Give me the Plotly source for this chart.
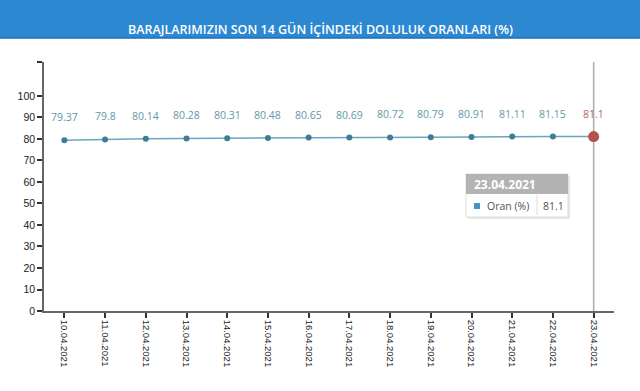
import plotly.graph_objects as go

dates = ["10.04.2021", "11.04.2021", "12.04.2021", "13.04.2021", "14.04.2021",
         "15.04.2021", "16.04.2021", "17.04.2021", "18.04.2021", "19.04.2021",
         "20.04.2021", "21.04.2021", "22.04.2021", "23.04.2021"]
values = [79.37, 79.8, 80.14, 80.28, 80.31, 80.48, 80.65, 80.69, 80.72, 80.79,
          80.91, 81.11, 81.15, 81.1]
labels = ["79.37", "79.8", "80.14", "80.28", "80.31", "80.48", "80.65", "80.69",
          "80.72", "80.79", "80.91", "81.11", "81.15", "81.1"]
y_ticks = [0, 10, 20, 30, 40, 50, 60, 70, 80, 90, 100]
title = "BARAJLARIMIZIN SON 14 GÜN İÇİNDEKİ DOLULUK ORANLARI (%)"
series_name = "Oran (%)"
ymax = 115.8

fig = go.Figure()
fig.add_trace(go.Scatter(
    x=dates, y=values, mode="lines+markers",
    line=dict(color="#6aa6c0", width=1.5),
    marker=dict(color="#3f7d94", size=6),
    hoverinfo="skip", showlegend=False))
fig.add_trace(go.Scatter(
    x=[dates[-1]], y=[values[-1]], mode="markers",
    marker=dict(color="#b5524f", size=11),
    hoverinfo="skip", showlegend=False))

for i, (d, v, t) in enumerate(zip(dates, values, labels)):
    fig.add_annotation(x=d, y=v, text=t, showarrow=False, yshift=23,
                       font=dict(family="Open Sans", size=10.5,
                                 color="#b06a66" if i == len(dates) - 1 else "#6397a8"))

def px(xp):
    return (xp - 44) / 570
def py(yp):
    return (311 - yp) / 249

# hover cursor line
fig.add_shape(type="line", xref="x", yref="paper", x0=dates[-1], x1=dates[-1],
              y0=0, y1=1, line=dict(color="#aaaaaa", width=1.5), layer="below")

# header band
fig.add_shape(type="rect", xref="paper", yref="paper",
              x0=px(0), x1=px(640), y0=py(38), y1=py(-2),
              fillcolor="#2d88d2", line=dict(width=0), layer="above")
fig.add_shape(type="line", xref="paper", yref="paper",
              x0=px(0), x1=px(640), y0=py(38), y1=py(38),
              line=dict(color="#1f6fb5", width=1.5), layer="above")
fig.add_annotation(xref="paper", yref="paper", x=px(320), y=py(19),
                   text=title, showarrow=False,
                   font=dict(family="Open Sans", size=12.5, color="white", weight=600))

# tooltip
fig.add_shape(type="rect", xref="paper", yref="paper", x0=px(468), x1=px(570),
              y0=py(219), y1=py(176), fillcolor="#e6e6e6", line=dict(width=0))
fig.add_shape(type="rect", xref="paper", yref="paper", x0=px(466), x1=px(568),
              y0=py(217), y1=py(174), fillcolor="white",
              line=dict(color="#dddddd", width=1))
fig.add_shape(type="rect", xref="paper", yref="paper", x0=px(466), x1=px(568),
              y0=py(194), y1=py(174), fillcolor="#b3b3b3", line=dict(width=0))
fig.add_shape(type="line", xref="paper", yref="paper", x0=px(537), x1=px(537),
              y0=py(215), y1=py(195), line=dict(color="#dddddd", width=1))
fig.add_shape(type="rect", xref="paper", yref="paper", x0=px(474), x1=px(480),
              y0=py(209), y1=py(203), fillcolor="#4a90c0", line=dict(width=0))
fig.add_annotation(xref="paper", yref="paper", x=px(472), y=py(184), xanchor="left",
                   text="<b>" + dates[-1] + "</b>", showarrow=False,
                   font=dict(family="Open Sans", size=12, color="white"))
fig.add_annotation(xref="paper", yref="paper", x=px(485), y=py(206), xanchor="left",
                   text=series_name, showarrow=False,
                   font=dict(family="Open Sans", size=10.5, color="#555555"))
fig.add_annotation(xref="paper", yref="paper", x=px(541), y=py(206), xanchor="left",
                   text=labels[-1], showarrow=False,
                   font=dict(family="Open Sans", size=10.5, color="#555555"))

fig.update_layout(
    width=640, height=391,
    margin=dict(l=44, r=26, t=62, b=80),
    paper_bgcolor="white", plot_bgcolor="white",
    xaxis=dict(type="category", range=[-0.5, 13.5], tickangle=90,
               showgrid=False, zeroline=False, showline=True,
               linecolor="#666666", linewidth=1.5, ticks="outside",
               ticklen=5, tickcolor="#333333", tickwidth=1.5,
               tickfont=dict(family="Liberation Sans", size=9.5, color="#222222")),
    yaxis=dict(range=[0, ymax], tickvals=y_ticks + [ymax],
               ticktext=[str(t) for t in y_ticks] + [""],
               showgrid=False, zeroline=False, showline=True,
               linecolor="#666666", linewidth=1.5, ticks="outside",
               ticklen=5, tickcolor="#333333", tickwidth=1.5,
               tickfont=dict(family="Liberation Sans", size=10.5, color="#222222")),
)

fig.write_html("out.html")
